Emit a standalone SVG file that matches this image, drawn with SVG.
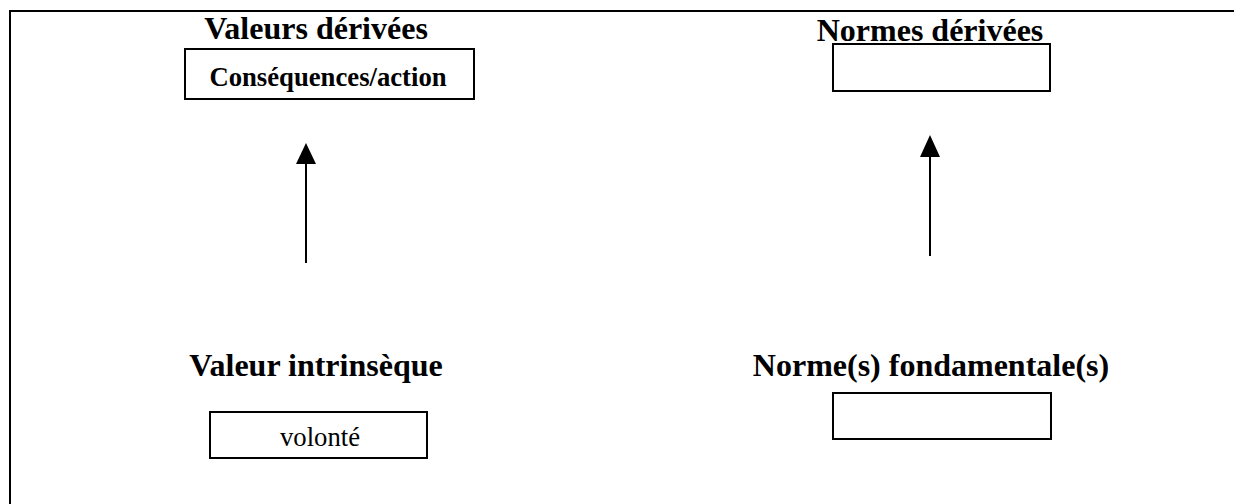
<svg xmlns="http://www.w3.org/2000/svg" width="1234" height="504" viewBox="0 0 1234 504">
<style>
.box{fill:#fff;stroke:#000;stroke-width:2}
.t{font-family:"Liberation Serif","Times New Roman",serif;fill:#000;text-anchor:middle}
.b{font-weight:bold}
.title{font-size:32px;font-weight:bold}
.conn{stroke:#000;stroke-width:2;fill:none}
</style>
<rect width="1234" height="504" fill="#fff"/>
<path d="M10,504 V11 H1234" fill="none" stroke="#000" stroke-width="2"/>
<g id="valeurs-derivees">
<text class="t title" x="316" y="39">Valeurs dérivées</text>
<rect class="box" x="185" y="49" width="289" height="50"/>
<text class="t b" x="328" y="86" font-size="26.7">Conséquences/action</text>
</g>
<g id="normes-derivees">
<text class="t title" x="930" y="41">Normes dérivées</text>
<rect class="box" x="833" y="44" width="217" height="47"/>
</g>
<g id="valeur-intrinseque">
<text class="t title" x="316" y="376">Valeur intrinsèque</text>
<rect class="box" x="210" y="412" width="217" height="46"/>
<text class="t" x="320" y="446" font-size="26.7">volonté</text>
</g>
<g id="normes-fondamentales">
<text class="t title" x="931" y="376">Norme(s) fondamentale(s)</text>
<rect class="box" x="833" y="393" width="218" height="46"/>
</g>
<g id="connectors">
<line class="conn" x1="306" y1="263" x2="306" y2="163"/>
<path d="M306,143 L316,164 L296,164 z" fill="#000"/>
<line class="conn" x1="930" y1="256" x2="930" y2="156"/>
<path d="M930,135 L940,157 L920,157 z" fill="#000"/>
</g>
</svg>
